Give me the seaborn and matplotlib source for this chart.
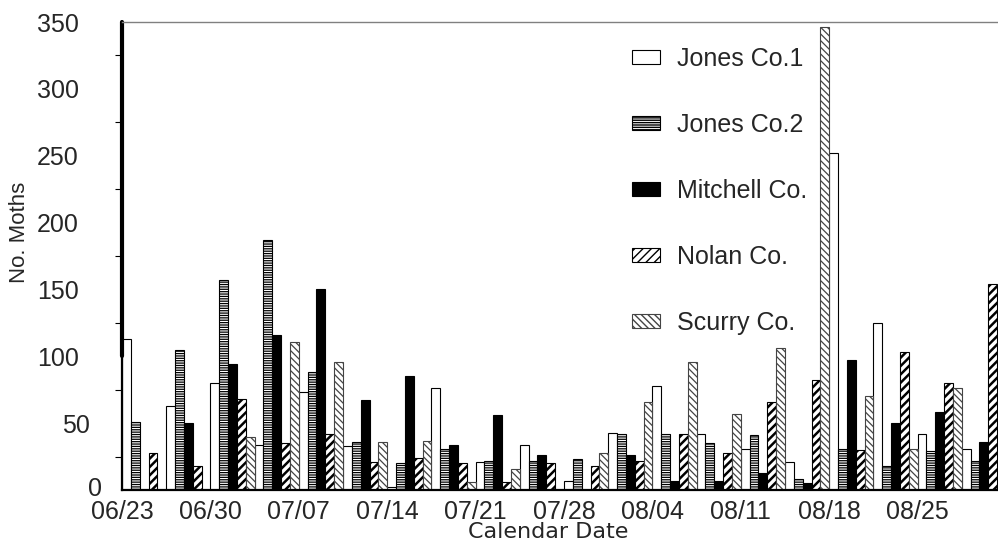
import numpy as np
import pandas as pd
import matplotlib
matplotlib.use('Agg')
import matplotlib.pyplot as plt
import matplotlib.transforms as mtransforms
import seaborn as sns

# counts per sampling date (two samples per week, 06/23 onwards)
counties = ['Jones Co.1', 'Jones Co.2', 'Mitchell Co.', 'Nolan Co.', 'Scurry Co.']
jones1 = [113, 63, 80, 34, 73, 33, 2, 76, 21, 34, 7, 43, 78, 42, 31, 21, 252, 125, 42, 31]
jones2 = [51, 105, 157, 187, 88, 36, 20, 31, 22, 22, 23, 42, 42, 35, 41, 8, 31, 18, 29, 22]
mitchell = [0, 50, 94, 116, 150, 67, 85, 34, 56, 26, 0, 26, 7, 7, 13, 5, 97, 50, 58, 36]
nolan = [28, 18, 68, 35, 42, 21, 24, 20, 6, 20, 18, 22, 42, 28, 66, 82, 30, 103, 80, 154]
scurry = [0, 0, 40, 111, 96, 36, 37, 6, 16, 0, 28, 66, 96, 57, 106, 346, 70, 31, 76, 0]
week_labels = ['06/23', '06/30', '07/07', '07/14', '07/21', '07/28',
               '08/04', '08/11', '08/18', '08/25']

series = [jones1, jones2, mitchell, nolan, scurry]
rows = []
for name, vals in zip(counties, series):
    for i, v in enumerate(vals):
        rows.append({'sample': i, 'county': name, 'moths': v})
df = pd.DataFrame(rows)

sns.set_style('white')
plt.rcParams['font.family'] = ['Liberation Sans', 'DejaVu Sans']
plt.rcParams['hatch.linewidth'] = 1.0

W, H = 998, 544
fig = plt.figure(figsize=(W / 100, H / 100), dpi=100)
ax = fig.add_axes([122 / W, 54 / H, (W - 122) / W, 468 / H])

palette = {'Jones Co.1': 'white', 'Jones Co.2': 'white', 'Mitchell Co.': 'black',
           'Nolan Co.': 'white', 'Scurry Co.': 'white'}
sns.barplot(data=df, x='sample', y='moths', hue='county', hue_order=counties,
            palette=palette, width=1.0, gap=0, errorbar=None, legend=False,
            saturation=1, ax=ax)

hatches = ['', '-------', '', '////', '\\\\\\\\\\']
edges = ['black', 'black', 'black', 'black', '#444444']
hlw = [1.0, 0.9, 1.0, 1.8, 0.9]
for cont, h, ec, lw in zip(ax.containers, hatches, edges, hlw):
    for p in cont.patches:
        p.set_hatch(h)
        p.set_edgecolor(ec)
        p.set_linewidth(0.8)
        try:
            p.set_hatch_linewidth(lw)
        except AttributeError:
            pass

ax.set_ylim(0, 350)
ax.set_xlim(-0.5, -0.5 + (W - 122) / 44.2)

ax.set_xticks(np.arange(len(week_labels)) * 2 - 0.5)
ax.set_xticklabels(week_labels)
ax.tick_params(axis='x', length=0, pad=7, labelsize=18)

ax.set_yticks(np.arange(0, 351, 50))
ax.set_yticks(np.arange(25, 350, 50), minor=True)
ax.tick_params(axis='y', which='major', length=0, pad=31, labelsize=18)
ax.tick_params(axis='y', which='minor', length=5, width=0.8, left=True, color='black')
for lab in ax.get_yticklabels():
    if lab.get_text() == '50':
        lab.set_transform(lab.get_transform() + mtransforms.ScaledTranslation(0.11, 0, fig.dpi_scale_trans))
    elif lab.get_text() == '0':
        lab.set_transform(lab.get_transform() + mtransforms.ScaledTranslation(0.23, 0.03, fig.dpi_scale_trans))

ax.set_xlabel('Calendar Date', family='DejaVu Sans', fontsize=16)
ax.xaxis.set_label_coords((548 - 122) / (W - 122), -32 / 468)
ax.set_ylabel('No. Moths', fontsize=16)
ax.yaxis.set_label_coords(-92 / (W - 122), (490 - 232) / 468)

for s in ['left', 'bottom']:
    ax.spines[s].set_color('black')
    ax.spines[s].set_linewidth(1.6)
ax.spines['top'].set_color('#808080')
ax.spines['top'].set_linewidth(1.0)
ax.spines['right'].set_visible(False)
ax.axvline(-0.5, ymin=100 / 350, ymax=1, color='black', lw=3, clip_on=False)

handles = [c.patches[0] for c in ax.containers]
leg = ax.legend(handles, counties, loc='upper left', frameon=False, fontsize=18,
                bbox_to_anchor=(632 / W, 1 - 47 / H), bbox_transform=fig.transFigure,
                borderpad=0, borderaxespad=0, handlelength=1.12, handleheight=0.5,
                handletextpad=0.68, labelspacing=1.68)

fig.savefig('out.png', dpi=100)
